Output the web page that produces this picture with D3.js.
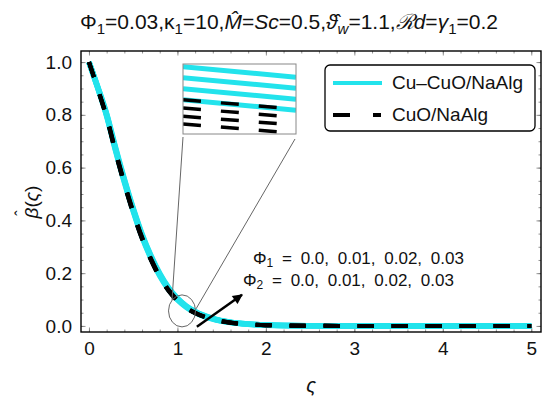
<!DOCTYPE html>
<html>
<head>
<meta charset="utf-8">
<script src="https://cdn.jsdelivr.net/npm/d3@7"></script>
<style>
  body { margin: 0; background: #fff; }
  text { font-family: "Liberation Sans", Arial, sans-serif; }
</style>
</head>
<body>
<svg width="550" height="405"></svg>
<script>
// similarity variable
const zeta = [0, 0.1, 0.2, 0.3, 0.4, 0.5, 0.6, 0.7, 0.8, 0.9, 1.0, 1.1, 1.2, 1.4, 1.6, 1.8, 2.0, 2.5, 3, 4, 5];

// Cu-CuO/NaAlg, Phi = 0.0, 0.01, 0.02, 0.03
const hybrid0 = [1, 0.900, 0.795, 0.665, 0.545, 0.435, 0.337, 0.257, 0.190, 0.138, 0.099, 0.071, 0.051, 0.026, 0.013, 0.0065, 0.003, 0.0006, 0, 0, 0];
const hybrid1 = [1, 0.902, 0.798, 0.669, 0.549, 0.439, 0.341, 0.260, 0.193, 0.140, 0.101, 0.073, 0.052, 0.027, 0.0135, 0.0068, 0.0032, 0.0007, 0, 0, 0];
const hybrid2 = [1, 0.904, 0.801, 0.673, 0.553, 0.443, 0.345, 0.264, 0.196, 0.143, 0.103, 0.074, 0.053, 0.028, 0.014, 0.007, 0.0034, 0.0007, 0, 0, 0];
const hybrid3 = [1, 0.906, 0.804, 0.677, 0.557, 0.447, 0.349, 0.267, 0.199, 0.145, 0.105, 0.076, 0.055, 0.029, 0.0145, 0.0073, 0.0036, 0.0008, 0, 0, 0];

// CuO/NaAlg, Phi = 0.0, 0.01, 0.02, 0.03
const mono0 = [1, 0.896, 0.788, 0.656, 0.535, 0.425, 0.328, 0.249, 0.183, 0.132, 0.094, 0.067, 0.048, 0.024, 0.012, 0.006, 0.0027, 0.0005, 0, 0, 0];
const mono1 = [1, 0.897, 0.790, 0.659, 0.538, 0.428, 0.331, 0.251, 0.185, 0.134, 0.096, 0.068, 0.049, 0.025, 0.0123, 0.0062, 0.0028, 0.0005, 0, 0, 0];
const mono2 = [1, 0.898, 0.792, 0.662, 0.541, 0.431, 0.334, 0.254, 0.187, 0.136, 0.097, 0.069, 0.050, 0.025, 0.0127, 0.0064, 0.0029, 0.0006, 0, 0, 0];
const mono3 = [1, 0.899, 0.794, 0.665, 0.544, 0.434, 0.337, 0.256, 0.189, 0.137, 0.098, 0.070, 0.050, 0.026, 0.013, 0.0066, 0.0030, 0.0006, 0, 0, 0];

// magnified piece near zeta = 1.05
const insetZeta = [1.05, 1.0565];
const insetHybrid = [[0.0895, 0.0876], [0.0875, 0.0856], [0.0855, 0.0836], [0.0835, 0.0816]];
const insetMono = [[0.0835, 0.0818], [0.0820, 0.0803], [0.0805, 0.0789], [0.0791, 0.0774]];

const xTicks = [0, 1, 2, 3, 4, 5];
const yTicks = [0, 0.2, 0.4, 0.6, 0.8, 1.0];
const legendNames = ["Cu\u2013CuO/NaAlg", "CuO/NaAlg"];

const CYAN = "#22e3ec";

let svg = d3.select("svg");

let x = d3.scaleLinear().domain([-0.09, 5.11]).range([81, 541]);
let y = d3.scaleLinear().domain([-0.023, 1.042]).range([332, 51]);

// ticks (inside the frame, on all four sides)
let xMinor = d3.range(0, 5.01, 0.2);
let yMinor = d3.range(0, 1.01, 0.05);

function tickAxis(axisFn, scale, ticks, size, tx, ty) {
  let a = axisFn(scale).tickValues(ticks).tickSizeInner(-size).tickSizeOuter(0).tickFormat("");
  let g = svg.append("g").attr("transform", "translate(" + tx + "," + ty + ")").call(a);
  g.select(".domain").remove();
  g.selectAll("line").attr("stroke", "#777").attr("stroke-width", 0.8);
  return g;
}
tickAxis(d3.axisBottom, x, xMinor, 2.5, 0, 332);
tickAxis(d3.axisBottom, x, xTicks, 4.5, 0, 332);
tickAxis(d3.axisTop, x, xMinor, 2.5, 0, 51);
tickAxis(d3.axisTop, x, xTicks, 4.5, 0, 51);
tickAxis(d3.axisLeft, y, yMinor, 2.5, 81, 0);
tickAxis(d3.axisLeft, y, yTicks, 4.5, 81, 0);
tickAxis(d3.axisRight, y, yMinor, 2.5, 541, 0);
tickAxis(d3.axisRight, y, yTicks, 4.5, 541, 0);

// tick labels
let xAxis = svg.append("g").attr("transform", "translate(0,332)")
  .call(d3.axisBottom(x).tickValues(xTicks).tickSize(0).tickPadding(10).tickFormat(d3.format("d")));
xAxis.select(".domain").remove();
xAxis.selectAll("text").attr("font-size", 19).attr("fill", "#111").style("font-family", "Liberation Sans");

let yAxis = svg.append("g").attr("transform", "translate(81,0)")
  .call(d3.axisLeft(y).tickValues(yTicks).tickSize(0).tickPadding(9).tickFormat(d3.format(".1f")));
yAxis.select(".domain").remove();
yAxis.selectAll("text").attr("font-size", 19).attr("fill", "#111").style("font-family", "Liberation Sans");

// curves
svg.append("clipPath").attr("id", "plotclip")
  .append("rect").attr("x", 81).attr("y", 51).attr("width", 460).attr("height", 281);

let line = d3.line()
  .x(function (d) { return x(d[0]); })
  .y(function (d) { return y(d[1]); })
  .curve(d3.curveMonotoneX);

let curves = svg.append("g").attr("clip-path", "url(#plotclip)");

[hybrid0, hybrid1, hybrid2, hybrid3].forEach(function (s) {
  curves.append("path")
    .datum(d3.zip(zeta, s))
    .attr("d", line)
    .attr("fill", "none")
    .attr("stroke", CYAN)
    .attr("stroke-width", 5.5);
});
[mono0, mono1, mono2, mono3].forEach(function (s) {
  curves.append("path")
    .datum(d3.zip(zeta, s))
    .attr("d", line)
    .attr("fill", "none")
    .attr("stroke", "#000")
    .attr("stroke-width", 4)
    .attr("stroke-dasharray", "16,18");
});

// frame
svg.append("rect")
  .attr("x", 81).attr("y", 51).attr("width", 460).attr("height", 281)
  .attr("fill", "none").attr("stroke", "#000").attr("stroke-width", 1.4);

// ellipse marking the zoomed area
let ex = x(1.052), ey = y(0.057);
svg.append("ellipse")
  .attr("cx", ex).attr("cy", ey).attr("rx", 13.5).attr("ry", 16)
  .attr("fill", "none").attr("stroke", "#666").attr("stroke-width", 1);

// inset
let inset = { x: 183, y: 64, w: 113, h: 70 };
let ix = d3.scaleLinear().domain(insetZeta).range([inset.x, inset.x + inset.w]);
let iy = d3.scaleLinear().domain([0.07727, 0.0900]).range([inset.y + inset.h, inset.y]);

svg.append("line")
  .attr("x1", inset.x).attr("y1", inset.y + inset.h + 3)
  .attr("x2", ex - 10).attr("y2", ey - 11)
  .attr("stroke", "#666").attr("stroke-width", 1);
svg.append("line")
  .attr("x1", inset.x + inset.w - 1).attr("y1", inset.y + inset.h + 5)
  .attr("x2", ex + 14).attr("y2", ey - 2)
  .attr("stroke", "#666").attr("stroke-width", 1);

svg.append("clipPath").attr("id", "insetclip")
  .append("rect").attr("x", inset.x).attr("y", inset.y).attr("width", inset.w).attr("height", inset.h);
svg.append("rect")
  .attr("x", inset.x).attr("y", inset.y).attr("width", inset.w).attr("height", inset.h)
  .attr("fill", "#fff");

let iline = d3.line()
  .x(function (d) { return ix(d[0]); })
  .y(function (d) { return iy(d[1]); });
let ig = svg.append("g").attr("clip-path", "url(#insetclip)");
insetHybrid.forEach(function (s) {
  ig.append("path").datum(d3.zip(insetZeta, s)).attr("d", iline)
    .attr("fill", "none").attr("stroke", CYAN).attr("stroke-width", 5);
});
insetMono.forEach(function (s) {
  ig.append("path").datum(d3.zip(insetZeta, s)).attr("d", iline)
    .attr("fill", "none").attr("stroke", "#000").attr("stroke-width", 3.5)
    .attr("stroke-dasharray", "18,20");
});
svg.append("rect")
  .attr("x", inset.x).attr("y", inset.y).attr("width", inset.w).attr("height", inset.h)
  .attr("fill", "none").attr("stroke", "#888").attr("stroke-width", 1);

// arrow
svg.append("defs").append("marker")
  .attr("id", "head")
  .attr("viewBox", "0 0 10 10")
  .attr("refX", 9).attr("refY", 5)
  .attr("markerWidth", 12).attr("markerHeight", 10)
  .attr("markerUnits", "userSpaceOnUse")
  .attr("orient", "auto")
  .append("path").attr("d", "M0,0 L10,5 L0,10 Z").attr("fill", "#000");

svg.append("line")
  .attr("x1", x(1.22)).attr("y1", y(-0.003))
  .attr("x2", x(1.73)).attr("y2", y(0.118))
  .attr("stroke", "#000").attr("stroke-width", 2.5)
  .attr("marker-end", "url(#head)");

// annotation
function phiLabel(px, py, sub) {
  let t = svg.append("text").attr("x", px).attr("y", py).attr("font-size", 17)
    .attr("word-spacing", 4).attr("fill", "#111");
  t.append("tspan").text("\u03A6");
  t.append("tspan").attr("font-size", 12).attr("dy", 3).text(sub);
  t.append("tspan").attr("dy", -3).text(" = 0.0, 0.01, 0.02, 0.03");
}
phiLabel(253, 264, "1");
phiLabel(243, 286, "2");

// legend
let lg = svg.append("g");
lg.append("rect")
  .attr("x", 325).attr("y", 65).attr("width", 210).attr("height", 66).attr("rx", 5)
  .attr("fill", "#fff").attr("stroke", "#000").attr("stroke-width", 1.3);
lg.append("line").attr("x1", 333).attr("x2", 382).attr("y1", 83).attr("y2", 83)
  .attr("stroke", CYAN).attr("stroke-width", 4);
lg.append("line").attr("x1", 333).attr("x2", 381).attr("y1", 115).attr("y2", 115)
  .attr("stroke", "#000").attr("stroke-width", 4).attr("stroke-dasharray", "17,23");
lg.selectAll("text.leg").data(legendNames).enter().append("text")
  .attr("class", "leg")
  .attr("x", 392).attr("y", function (d, i) { return 89 + i * 32; })
  .attr("font-size", 19).attr("fill", "#111")
  .text(function (d) { return d; });

// title
let title = svg.append("text").attr("x", 80).attr("y", 29).attr("font-size", 21).attr("fill", "#111");
function seg(t, txt, opts) {
  let s = t.append("tspan").text(txt);
  if (opts && opts.it) s.attr("font-style", "italic");
  if (opts && opts.sub) s.attr("font-size", 15).attr("dy", 5);
  if (opts && opts.up) s.attr("dy", -5);
  return s;
}
seg(title, "\u03A6");
seg(title, "1", { sub: true });
seg(title, "=0.03,\u03BA", { up: true });
seg(title, "1", { sub: true });
seg(title, "=10,", { up: true });
seg(title, "M\u0302", { it: true });
seg(title, "=");
seg(title, "Sc", { it: true });
seg(title, "=0.5,");
seg(title, "\u03D1\u0302", { it: true });
seg(title, "w", { it: true, sub: true });
seg(title, "=1.1,", { up: true });
seg(title, "\u211Bd", { it: true });
seg(title, "=");
seg(title, "\u03B3", { it: true });
seg(title, "1", { sub: true });
seg(title, "=0.2", { up: true });

// axis labels
let ylab = svg.append("g").attr("transform", "translate(38,202) rotate(-90)");
ylab.append("text")
  .attr("text-anchor", "middle").attr("font-size", 19).attr("fill", "#111")
  .html('<tspan font-style="italic">\u03B2</tspan>(<tspan font-style="italic">\u03C2</tspan>)');
ylab.append("text")
  .attr("x", -11).attr("y", -11)
  .attr("text-anchor", "middle").attr("font-size", 16).attr("fill", "#111")
  .text("\u02C6");

svg.append("text")
  .attr("x", 311).attr("y", 392)
  .attr("text-anchor", "middle").attr("font-size", 20).attr("font-style", "italic").attr("fill", "#111")
  .text("\u03C2");
</script>
</body>
</html>
